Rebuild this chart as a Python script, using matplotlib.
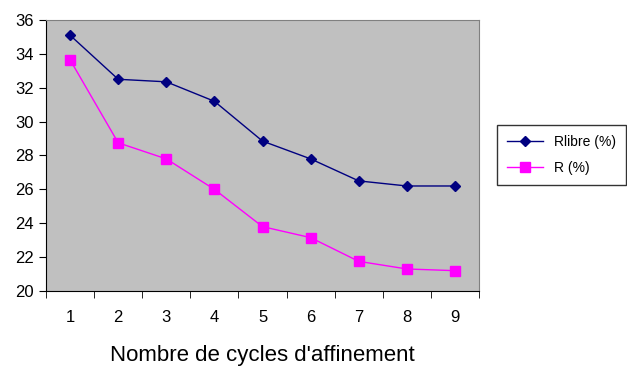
import matplotlib.pyplot as plt

plt.rcParams['font.family'] = ['Liberation Sans', 'DejaVu Sans']

cycles = [1, 2, 3, 4, 5, 6, 7, 8, 9]
rlibre = [35.1, 32.5, 32.35, 31.2, 28.85, 27.8, 26.5, 26.2, 26.2]
r = [33.65, 28.75, 27.8, 26.0, 23.8, 23.15, 21.75, 21.3, 21.2]

fig = plt.figure(figsize=(6.27, 3.69), dpi=100)
ax = fig.add_axes([0.0734, 0.2114, 0.6906, 0.7344])
ax.set_facecolor('#C0C0C0')

ax.plot(cycles, rlibre, color='#000080', marker='D', markersize=5.5, lw=1, label='Rlibre (%)')
ax.plot(cycles, r, color='#FF00FF', marker='s', markersize=6.5, lw=1, label='R (%)')

ax.set_xlim(0.5, 9.5)
ax.set_ylim(20, 36)
ax.set_yticks(range(20, 37, 2))
ax.set_xticks(cycles)
# category-axis style ticks between points
ax.set_xticks([c + 0.5 for c in [0] + cycles], minor=True)
ax.tick_params(axis='x', which='major', length=0, pad=14, labelsize=12)
ax.tick_params(axis='x', which='minor', length=5, direction='out')
ax.tick_params(axis='y', length=5, direction='out', labelsize=12)

for s in ['top', 'right']:
    ax.spines[s].set_color('#808080')
ax.spines['left'].set_color('black')
ax.spines['bottom'].set_color('black')

ax.set_xlabel("Nombre de cycles d'affinement", fontsize=16, labelpad=14)

leg = fig.legend(loc='upper left', bbox_to_anchor=(0.7927, 0.661), frameon=True,
                 fancybox=False, edgecolor='black', fontsize=10, borderaxespad=0,
                 handlelength=2.6, borderpad=0.7, labelspacing=0.9)
leg.get_frame().set_linewidth(1)

fig.savefig('out.png', dpi=100)
